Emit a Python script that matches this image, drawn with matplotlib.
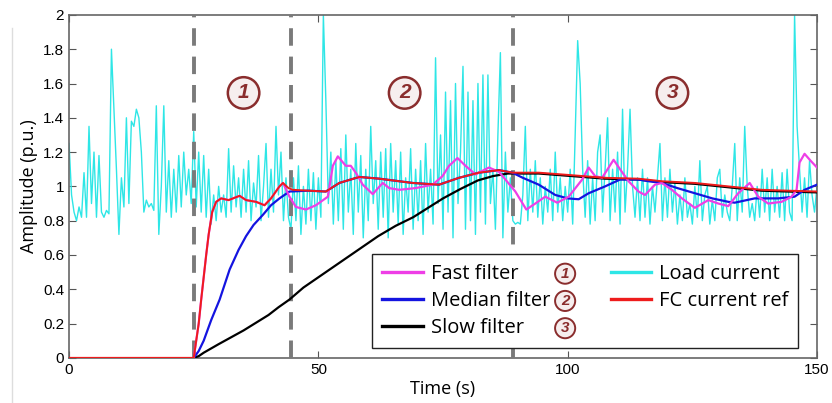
import matplotlib
matplotlib.use("Agg")
import matplotlib.pyplot as plt
from matplotlib.lines import Line2D
import numpy as np

# load current, sampled every 0.5 s from 0 to 150 s
load_t = np.arange(0, 150.5, 0.5)
load_current = [
    1.25, 0.95, 0.85, 0.80, 0.88, 0.82, 1.08, 0.82, 1.35, 0.90,
    1.20, 0.82, 1.18, 0.85, 0.82, 0.86, 0.84, 1.80, 1.45, 1.10,
    0.72, 1.05, 0.88, 1.40, 0.90, 1.38, 1.35, 1.45, 1.40, 1.20,
    0.85, 0.92, 0.88, 0.90, 0.86, 1.47, 0.72, 1.00, 1.47, 0.85,
    1.15, 0.82, 1.10, 0.85, 1.18, 0.88, 1.20, 0.95, 1.10, 0.90,
    1.32, 0.88, 1.20, 0.85, 1.18, 0.82, 1.10, 0.78, 0.95, 0.80,
    1.00, 0.85, 0.95, 0.82, 1.22, 0.85, 1.12, 0.88, 1.05, 0.82,
    1.10, 0.85, 1.15, 0.80, 1.02, 0.88, 1.18, 0.80, 1.00, 1.25,
    0.82, 1.10, 0.85, 1.35, 0.95, 1.20, 0.80, 1.05, 0.82, 0.75,
    1.05, 0.80, 1.12, 0.72, 1.00, 0.78, 1.10, 0.80, 1.08, 0.75,
    1.05, 0.82, 2.00, 1.50, 0.90, 1.20, 0.78, 1.15, 0.80, 1.22,
    0.75, 1.30, 0.85, 1.10, 0.72, 1.25, 0.85, 1.18, 0.70, 1.10,
    0.80, 1.35, 0.90, 1.15, 0.75, 1.20, 0.82, 1.22, 0.70, 1.25,
    0.85, 1.15, 0.78, 1.20, 0.72, 1.05, 0.85, 1.22, 0.75, 1.10,
    0.80, 1.15, 0.72, 1.25, 0.85, 1.10, 0.78, 1.75, 0.90, 1.30,
    0.75, 1.55, 0.85, 1.50, 0.70, 1.60, 0.90, 1.20, 1.70, 0.75,
    1.55, 0.80, 1.50, 0.72, 1.60, 0.85, 1.65, 0.78, 1.65, 0.90,
    1.10, 0.75, 1.30, 1.78, 0.70, 1.20, 0.85, 1.05, 0.80, 0.78,
    0.79, 0.78, 0.95, 1.35, 0.80, 1.10, 0.85, 1.15, 0.82, 1.05,
    0.78, 1.00, 0.85, 1.10, 0.80, 1.20, 0.85, 1.05, 0.80, 1.00,
    0.85, 1.10, 0.78, 1.30, 1.85, 1.60, 1.10, 0.82, 1.15, 0.78,
    1.05, 0.80, 1.20, 1.30, 0.85, 1.10, 1.40, 0.80, 1.10, 0.85,
    1.20, 0.78, 1.45, 0.85, 1.10, 1.45, 1.00, 0.82, 1.05, 0.80,
    1.10, 0.82, 1.05, 0.78, 1.00, 0.85, 1.05, 1.25, 0.80, 1.05,
    0.82, 1.10, 0.85, 1.02, 0.78, 0.95, 0.80, 1.05, 0.82, 0.90,
    0.78, 1.00, 0.82, 1.15, 0.80, 0.95, 1.00, 0.78, 0.92, 0.80,
    1.05, 1.10, 0.82, 0.95, 0.85, 0.80, 1.00, 1.25, 0.80, 1.05,
    0.85, 1.35, 1.00, 0.82, 0.90, 0.80, 1.00, 0.82, 1.10, 0.85,
    1.05, 0.80, 1.10, 0.85, 1.00, 0.82, 1.08, 0.80, 1.10, 0.85,
    0.80, 2.00, 1.35, 1.10, 0.85, 1.05, 0.82, 1.15, 0.95, 0.85,
    1.00,
]

# FC current reference
ref_t = [0, 25, 26, 26.5, 27, 27.5, 28, 28.7, 29.5, 30.5, 32, 34.2, 35.5, 37.5,
         39.2, 40.5, 42.2, 42.9, 44, 44.9, 48, 51.5, 54.2, 58.2, 62.2, 68.9,
         74.2, 78.2, 82.2, 86.2, 88.9, 94.2, 100.9, 107.5, 114.2, 118.9,
         125.5, 132.2, 138.9, 144.2, 150]
ref_val = [0, 0, 0.2, 0.34, 0.47, 0.6, 0.72, 0.85, 0.91, 0.93, 0.92, 0.945,
           0.92, 0.91, 0.89, 0.93, 1.0, 1.02, 0.99, 0.98, 0.975, 0.97, 1.02,
           1.055, 1.045, 1.02, 1.01, 1.05, 1.08, 1.095, 1.08, 1.08, 1.065,
           1.05, 1.045, 1.03, 1.02, 1.0, 0.98, 0.975, 0.97]

# fast filter
fast_t = [25, 26, 26.5, 27, 27.5, 28, 28.7, 29.5, 30.5, 32, 34.2, 35.5, 37.5,
          39.2, 40.5, 42.2, 42.9, 44.2, 45.5, 47.5, 49.5, 51.9, 52.9, 53.9,
          55.5, 56.5, 57.5, 58.9, 60.9, 62.9, 64.2, 66.2, 69.5, 72.9, 74.9,
          76.2, 77.9, 79.5, 81.5, 84.2, 86.2, 87.5, 89.5, 91.7, 93.5, 95.5,
          97.9, 100.2, 102.9, 104.2, 105.5, 106.9, 109.2, 110.5, 112.2, 114.2,
          115.5, 117.5, 118.9, 120.9, 122.9, 125.5, 128.2, 130.2, 132.2,
          134.2, 136.5, 138.2, 140.2, 142.9, 144.9, 145.9, 146.5, 147.5,
          148.7, 150]
fast_val = [0, 0.2, 0.34, 0.47, 0.6, 0.72, 0.85, 0.91, 0.93, 0.92, 0.945,
            0.92, 0.91, 0.89, 0.93, 1.0, 1.02, 0.94, 0.88, 0.865, 0.89, 0.94,
            1.12, 1.175, 1.12, 1.12, 1.08, 1.01, 0.955, 1.02, 0.99, 0.98,
            0.99, 1.01, 1.06, 1.12, 1.165, 1.12, 1.07, 1.11, 1.085, 1.04,
            0.97, 0.865, 0.9, 0.94, 0.905, 0.94, 1.04, 1.11, 1.06, 1.05,
            1.155, 1.1, 1.03, 0.97, 0.95, 1.01, 1.02, 0.98, 0.93, 0.875,
            0.92, 0.9, 0.885, 0.96, 1.02, 0.94, 0.9, 0.91, 0.94, 0.98, 1.14,
            1.19, 1.15, 1.11]

# median filter
median_t = [25, 26, 27, 28.5, 30.2, 32.2, 34, 35.5, 37, 38.9, 40.5, 42.2, 44.2,
            48, 51.5, 54.2, 58.2, 62.2, 68.9, 74.2, 78.2, 82.2, 86.2, 88.9, 91,
            94.2, 97.5, 100, 102.2, 104.2, 107.5, 110.5, 114.2, 116.2, 118.9,
            122, 125.5, 129, 132.2, 133.5, 137.5, 142.2, 145.5, 147.5, 150]
median_val = [0, 0.04, 0.1, 0.22, 0.34, 0.515, 0.63, 0.71, 0.775, 0.835, 0.89,
              0.93, 0.97, 0.975, 0.97, 1.02, 1.055, 1.045, 1.02, 1.01, 1.05,
              1.08, 1.095, 1.08, 1.05, 1.01, 0.95, 0.93, 0.925, 0.96, 1.0, 1.04,
              1.04, 1.03, 1.02, 0.99, 0.96, 0.93, 0.91, 0.905, 0.93, 0.93, 0.94,
              0.98, 1.01]

# slow filter
slow_t = [25, 26, 27, 28.5, 30, 32.5, 35, 37.5, 40, 42, 44.2, 47, 50, 52.5, 55,
          58.5, 62, 65.5, 69, 72, 75, 78.5, 82, 85, 88, 94.2, 100.9, 107.5,
          114.2, 118.9, 125.5, 132.2, 138.9, 144.2, 150]
slow_val = [0, 0.01, 0.03, 0.055, 0.08, 0.12, 0.16, 0.205, 0.25, 0.295, 0.34,
            0.41, 0.47, 0.52, 0.57, 0.64, 0.71, 0.77, 0.82, 0.875, 0.93, 0.985,
            1.035, 1.06, 1.075, 1.075, 1.06, 1.045, 1.04, 1.025, 1.015, 0.995,
            0.975, 0.97, 0.965]

switch_times = [25, 44.5, 89]
zone_labels = ["1", "2", "3"]
zone_label_t = [35, 67.3, 121]

plt.rcParams["font.family"] = ["Liberation Sans", "DejaVu Sans"]

fig = plt.figure(figsize=(8.32, 4.03), dpi=100)
ax = fig.add_axes([0.083, 0.112, 0.899, 0.851])

ax.plot(load_t, load_current, color="#2ee6e6", lw=1.0, zorder=2)
for st in switch_times:
    ax.axvline(st, color="#7a7a7a", lw=2.8, ls=(0, (4.5, 2.8)), zorder=3)
ax.plot(slow_t, slow_val, color="black", lw=1.6, zorder=4)
ax.plot(median_t, median_val, color="#1414e0", lw=1.6, zorder=5)
ax.plot(fast_t, fast_val, color="#ee3ee6", lw=1.6, zorder=6)
ax.plot(ref_t, ref_val, color="#ee1c1c", lw=1.4, zorder=7)

circle_box = dict(boxstyle="circle,pad=0.3", fc="#f6eeee", ec="#8a2d2d", lw=1.8)
for lab, tx in zip(zone_labels, zone_label_t):
    ax.text(tx, 1.545, lab, ha="center", va="center", fontsize=15,
            fontweight="bold", fontstyle="italic", color="#8a2d2d",
            bbox=circle_box, zorder=8)

ax.set_xlim(0, 150)
ax.set_ylim(0, 2)
ax.set_xticks([0, 50, 100, 150])
ax.set_yticks(np.arange(0, 2.01, 0.2))
ax.set_yticklabels(["0", "0.2", "0.4", "0.6", "0.8", "1", "1.2", "1.4", "1.6", "1.8", "2"])
ax.tick_params(direction="in", length=5, top=True, right=True, labelsize=11,
               colors="#555555", labelcolor="black")
for sp in ax.spines.values():
    sp.set_color("#666666")
    sp.set_linewidth(1.2)

ax.set_xlabel("Time (s)", fontsize=13, family=["Open Sans", "DejaVu Sans"], labelpad=2)
ax.set_ylabel("Amplitude (p.u.)", fontsize=13, family=["Open Sans", "DejaVu Sans"], labelpad=4)

handles = [
    Line2D([], [], color="#ee3ee6", lw=2.4),
    Line2D([], [], color="#1414e0", lw=2.4),
    Line2D([], [], color="black", lw=2.4),
    Line2D([], [], color="#2ee6e6", lw=2.4),
    Line2D([], [], color="#ee1c1c", lw=2.4),
]
labels = ["Fast filter", "Median filter", "Slow filter", "Load current", "FC current ref"]
leg = ax.legend(handles, labels, ncol=2, loc="lower right",
                bbox_to_anchor=(0.975, 0.028), columnspacing=3.0, handlelength=2.0,
                handletextpad=0.4, labelspacing=0.36, borderpad=0.5,
                borderaxespad=0, fancybox=False, framealpha=1, edgecolor="#222222",
                prop={"family": ["Open Sans", "DejaVu Sans"], "size": 14.5})
leg.get_frame().set_linewidth(1.0)
leg.set_zorder(10)

# circled numbers next to the filter entries
fig.canvas.draw()
xr = leg.get_texts()[1].get_window_extent().x1 + 15
for i, lab in enumerate(zone_labels):
    bb = leg.get_texts()[i].get_window_extent()
    ymid = (bb.y0 + bb.y1) / 2
    fig.text(xr / fig.bbox.width, ymid / fig.bbox.height, lab, ha="center", va="center",
             fontsize=11, fontweight="bold", fontstyle="italic", color="#8a2d2d",
             bbox=dict(boxstyle="circle,pad=0.2", fc="#f6eeee", ec="#8a2d2d", lw=1.4),
             zorder=11)

fig.add_artist(Line2D([12 / 832, 12 / 832], [0.0, 0.93], color="#dddddd", lw=1))

fig.savefig("out.png", dpi=100)
